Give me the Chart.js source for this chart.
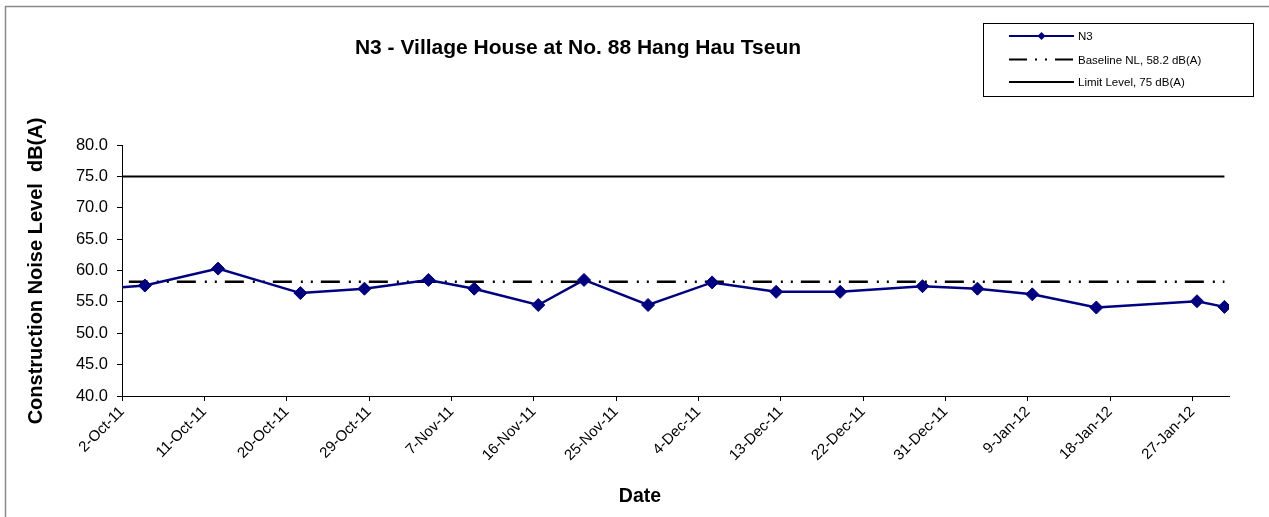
<!DOCTYPE html>
<html>
<head>
<meta charset="utf-8">
<script src="https://cdn.jsdelivr.net/npm/chart.js@4.4.1/dist/chart.umd.min.js"></script>
<style>
  html, body { margin: 0; padding: 0; background: #fff; }
  #wrap { position: relative; width: 1269px; height: 517px; }
  canvas { display: block; }
</style>
</head>
<body>
<div id="wrap"><canvas id="c" width="1269" height="517"></canvas></div>
<script>
// ---- Data ----
const chartTitle = 'N3 - Village House at No. 88 Hang Hau Tseun';
const yAxisTitle = 'Construction Noise Level  dB(A)';
const xAxisTitle = 'Date';
const seriesLabels = ['N3', 'Baseline NL, 58.2 dB(A)', 'Limit Level, 75 dB(A)'];
const measureDates = ['2011-09-27','2011-10-04','2011-10-12','2011-10-21','2011-10-28','2011-11-04','2011-11-09','2011-11-16','2011-11-21','2011-11-28','2011-12-05','2011-12-12','2011-12-19','2011-12-28','2012-01-03','2012-01-09','2012-01-16','2012-01-27','2012-01-30'];
const n3Values = [56.8,57.6,60.3,56.4,57.1,58.5,57.1,54.5,58.5,54.5,58.1,56.6,56.6,57.5,57.1,56.2,54.1,55.1,54.2];
const baselineLevel = 58.2;
const limitLevel = 75;
const axisStartDate = '2011-10-02';
const axisEndDate = '2012-01-30';
const tickStepDays = 9;
const yMin = 40, yMax = 80, yStep = 5;
const monthNames = ['Jan','Feb','Mar','Apr','May','Jun','Jul','Aug','Sep','Oct','Nov','Dec'];

// ---- helpers ----
function utc(s) { const p = s.split('-').map(Number); return Date.UTC(p[0], p[1]-1, p[2]); }
const t0 = utc(axisStartDate);
function dayIndex(s) { return Math.round((utc(s) - t0) / 86400000); }
function labelFor(idx) {
  const d = new Date(t0 + idx * 86400000);
  return d.getUTCDate() + '-' + monthNames[d.getUTCMonth()] + '-' + String(d.getUTCFullYear()).slice(2);
}
const xMin = dayIndex(axisStartDate) - 0.5;
const xMax = dayIndex(axisEndDate) + 0.5;
const firstDay = dayIndex(measureDates[0]);
const lastDay = dayIndex(measureDates[measureDates.length - 1]);

const n3Data = measureDates.map((d, i) => ({ x: dayIndex(d), y: n3Values[i] }));
const baseData = [{ x: firstDay, y: baselineLevel }, { x: lastDay, y: baselineLevel }];
const limitData = [{ x: firstDay, y: limitLevel }, { x: lastDay, y: limitLevel }];

const FONT = '"Liberation Sans", Arial, Helvetica, sans-serif';
const NAVY = '#000080';
const BASE_DASH = [19, 9, 2, 8, 2, 8];

const decorPlugin = {
  id: 'decor',
  beforeDraw(chart) {
    const ctx = chart.ctx;
    ctx.save();
    ctx.fillStyle = '#fff';
    ctx.fillRect(0, 0, chart.width, chart.height);
    // outer frame (top & left edges visible)
    ctx.strokeStyle = '#8a8a8a';
    ctx.lineWidth = 1.5;
    ctx.beginPath();
    ctx.moveTo(5.5, chart.height);
    ctx.lineTo(5.5, 6.5);
    ctx.lineTo(chart.width, 6.5);
    ctx.stroke();
    ctx.restore();
  },
  afterDraw(chart) {
    const ctx = chart.ctx;
    ctx.save();
    ctx.fillStyle = '#000';
    // Title
    ctx.font = 'bold 21px ' + FONT;
    ctx.textAlign = 'center';
    ctx.textBaseline = 'alphabetic';
    ctx.fillText(chartTitle, 578, 54);
    // X axis title
    ctx.font = 'bold 19.5px ' + FONT;
    ctx.fillText(xAxisTitle, 640, 502);
    // Y axis title
    ctx.save();
    ctx.translate(42, 271);
    ctx.rotate(-Math.PI / 2);
    ctx.font = 'bold 20px ' + FONT;
    ctx.fillText(yAxisTitle, 0, 0);
    ctx.restore();

    // Legend
    const bx = 983.5, by = 23.5, bw = 270, bh = 73;
    ctx.strokeStyle = '#000';
    ctx.lineWidth = 1;
    ctx.strokeRect(bx, by, bw, bh);
    const ys = [36, 59.5, 82];
    const x1 = 1009, x2 = 1074;
    const ds = chart.data.datasets;
    ds.forEach((d, i) => {
      const y = ys[i];
      ctx.save();
      ctx.strokeStyle = d.borderColor;
      ctx.lineWidth = 2;
      ctx.setLineDash(i === 1 ? [18, 8, 2, 8, 2, 8] : []);
      ctx.beginPath();
      ctx.moveTo(x1, y);
      ctx.lineTo(x2, y);
      ctx.stroke();
      ctx.restore();
      if (i === 0) {
        ctx.fillStyle = NAVY;
        ctx.beginPath();
        const cx = (x1 + x2) / 2, r = 4;
        ctx.moveTo(cx, y - r); ctx.lineTo(cx + r, y); ctx.lineTo(cx, y + r); ctx.lineTo(cx - r, y);
        ctx.closePath(); ctx.fill();
      }
      ctx.fillStyle = '#000';
      ctx.font = '11.5px ' + FONT;
      ctx.textAlign = 'left';
      ctx.textBaseline = 'middle';
      ctx.fillText(d.label, 1078, y + 1);
    });
    ctx.restore();
  }
};

new Chart(document.getElementById('c'), {
  type: 'line',
  data: {
    datasets: [
      {
        label: seriesLabels[0], data: n3Data,
        borderColor: NAVY, backgroundColor: NAVY, borderWidth: 2.5,
        pointStyle: 'rectRot', pointRadius: 6.5, pointBorderWidth: 1,
        pointBackgroundColor: NAVY, pointBorderColor: NAVY, tension: 0, order: 0
      },
      {
        label: seriesLabels[1], data: baseData,
        borderColor: '#000', borderWidth: 2.5, borderDash: BASE_DASH,
        pointRadius: 0, order: 1
      },
      {
        label: seriesLabels[2], data: limitData,
        borderColor: '#000', borderWidth: 2,
        pointRadius: 0, order: 2
      }
    ]
  },
  options: {
    responsive: false,
    animation: false,
    events: [],
    layout: { padding: { left: 0, top: 145, right: 40, bottom: 0 } },
    plugins: { legend: { display: false }, tooltip: { enabled: false }, title: { display: false } },
    scales: {
      x: {
        type: 'linear',
        min: xMin, max: xMax,
        afterFit(scale) { scale.height = 121; },
        afterBuildTicks(scale) {
          const t = [];
          for (let d = dayIndex(axisStartDate); d <= dayIndex(axisEndDate); d += tickStepDays) t.push({ value: d - 0.5 });
          scale.ticks = t;
        },
        grid: { drawOnChartArea: false, drawTicks: true, tickLength: 5, color: '#000' },
        border: { color: '#000', width: 1 },
        ticks: {
          autoSkip: false, minRotation: 45, maxRotation: 45, padding: 2,
          color: '#000', font: { family: FONT, size: 15 },
          callback: (v) => labelFor(Math.round(v + 0.5))
        }
      },
      y: {
        min: yMin, max: yMax,
        afterFit(scale) { scale.width = 122; },
        grid: { drawOnChartArea: false, drawTicks: true, tickLength: 5, color: '#000' },
        border: { color: '#000', width: 1 },
        ticks: {
          stepSize: yStep, padding: 9,
          color: '#000', font: { family: FONT, size: 16.5 },
          callback: (v) => Number(v).toFixed(1)
        }
      }
    }
  },
  plugins: [decorPlugin]
});
</script>
</body>
</html>
